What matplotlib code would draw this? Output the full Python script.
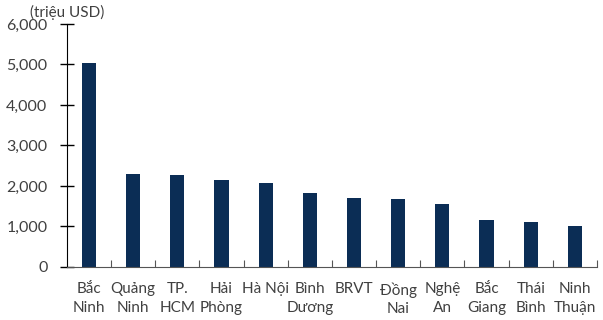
import numpy as np
import matplotlib
matplotlib.use('Agg')
import matplotlib.pyplot as plt
from matplotlib.ticker import FuncFormatter, FixedLocator

plt.rcParams['font.family'] = ['Lato', 'Noto Sans', 'DejaVu Sans']

provinces = ['Bắc\nNinh', 'Quảng\nNinh', 'TP.\nHCM', 'Hải\nPhòng', 'Hà Nội',
             'Bình\nDương', 'BRVT', 'Đồng\nNai', 'Nghệ\nAn', 'Bắc\nGiang',
             'Thái\nBình', 'Ninh\nThuận']
values = [5035, 2290, 2272, 2150, 2065, 1820, 1705, 1670, 1565, 1168, 1103, 1012]
y_ticks = [0, 1000, 2000, 3000, 4000, 5000, 6000]

text_color = '#404040'
bar_color = '#0b2d55'

fig = plt.figure(figsize=(6.03, 3.2), dpi=100)
ax = fig.add_axes([0.111, 0.166, 0.879, 0.759])

x = np.arange(len(provinces))
ax.bar(x, values, width=0.32, color=bar_color, zorder=2)

ax.set_xlim(-0.5, len(provinces) - 0.5)
ax.set_ylim(0, 6000)
ax.set_yticks(y_ticks)
ax.yaxis.set_major_formatter(FuncFormatter(lambda v, p: f'{int(v):,}'))

# category labels in the middle, tick marks on the boundaries
ax.set_xticks(x)
ax.set_xticklabels(provinces, linespacing=1.4)
ax.xaxis.set_minor_locator(FixedLocator(np.arange(0.5, len(provinces), 1)))
ax.tick_params(axis='x', which='major', length=0, pad=11, labelsize=11, labelcolor=text_color)
ax.tick_params(axis='x', which='minor', direction='in', length=5, width=0.8, color='#555555')
ax.tick_params(axis='y', direction='inout', length=10, width=1, color='black',
               labelsize=11.5, labelcolor=text_color, pad=9)

for side in ['top', 'right']:
    ax.spines[side].set_visible(False)
ax.spines['left'].set_color('black')
ax.spines['bottom'].set_color('#555555')
ax.spines['bottom'].set_linewidth(0.8)

fig.text(0.05, 0.962, '(triệu USD)', fontsize=11, color=text_color, va='center')

fig.savefig('out.png', dpi=100)
